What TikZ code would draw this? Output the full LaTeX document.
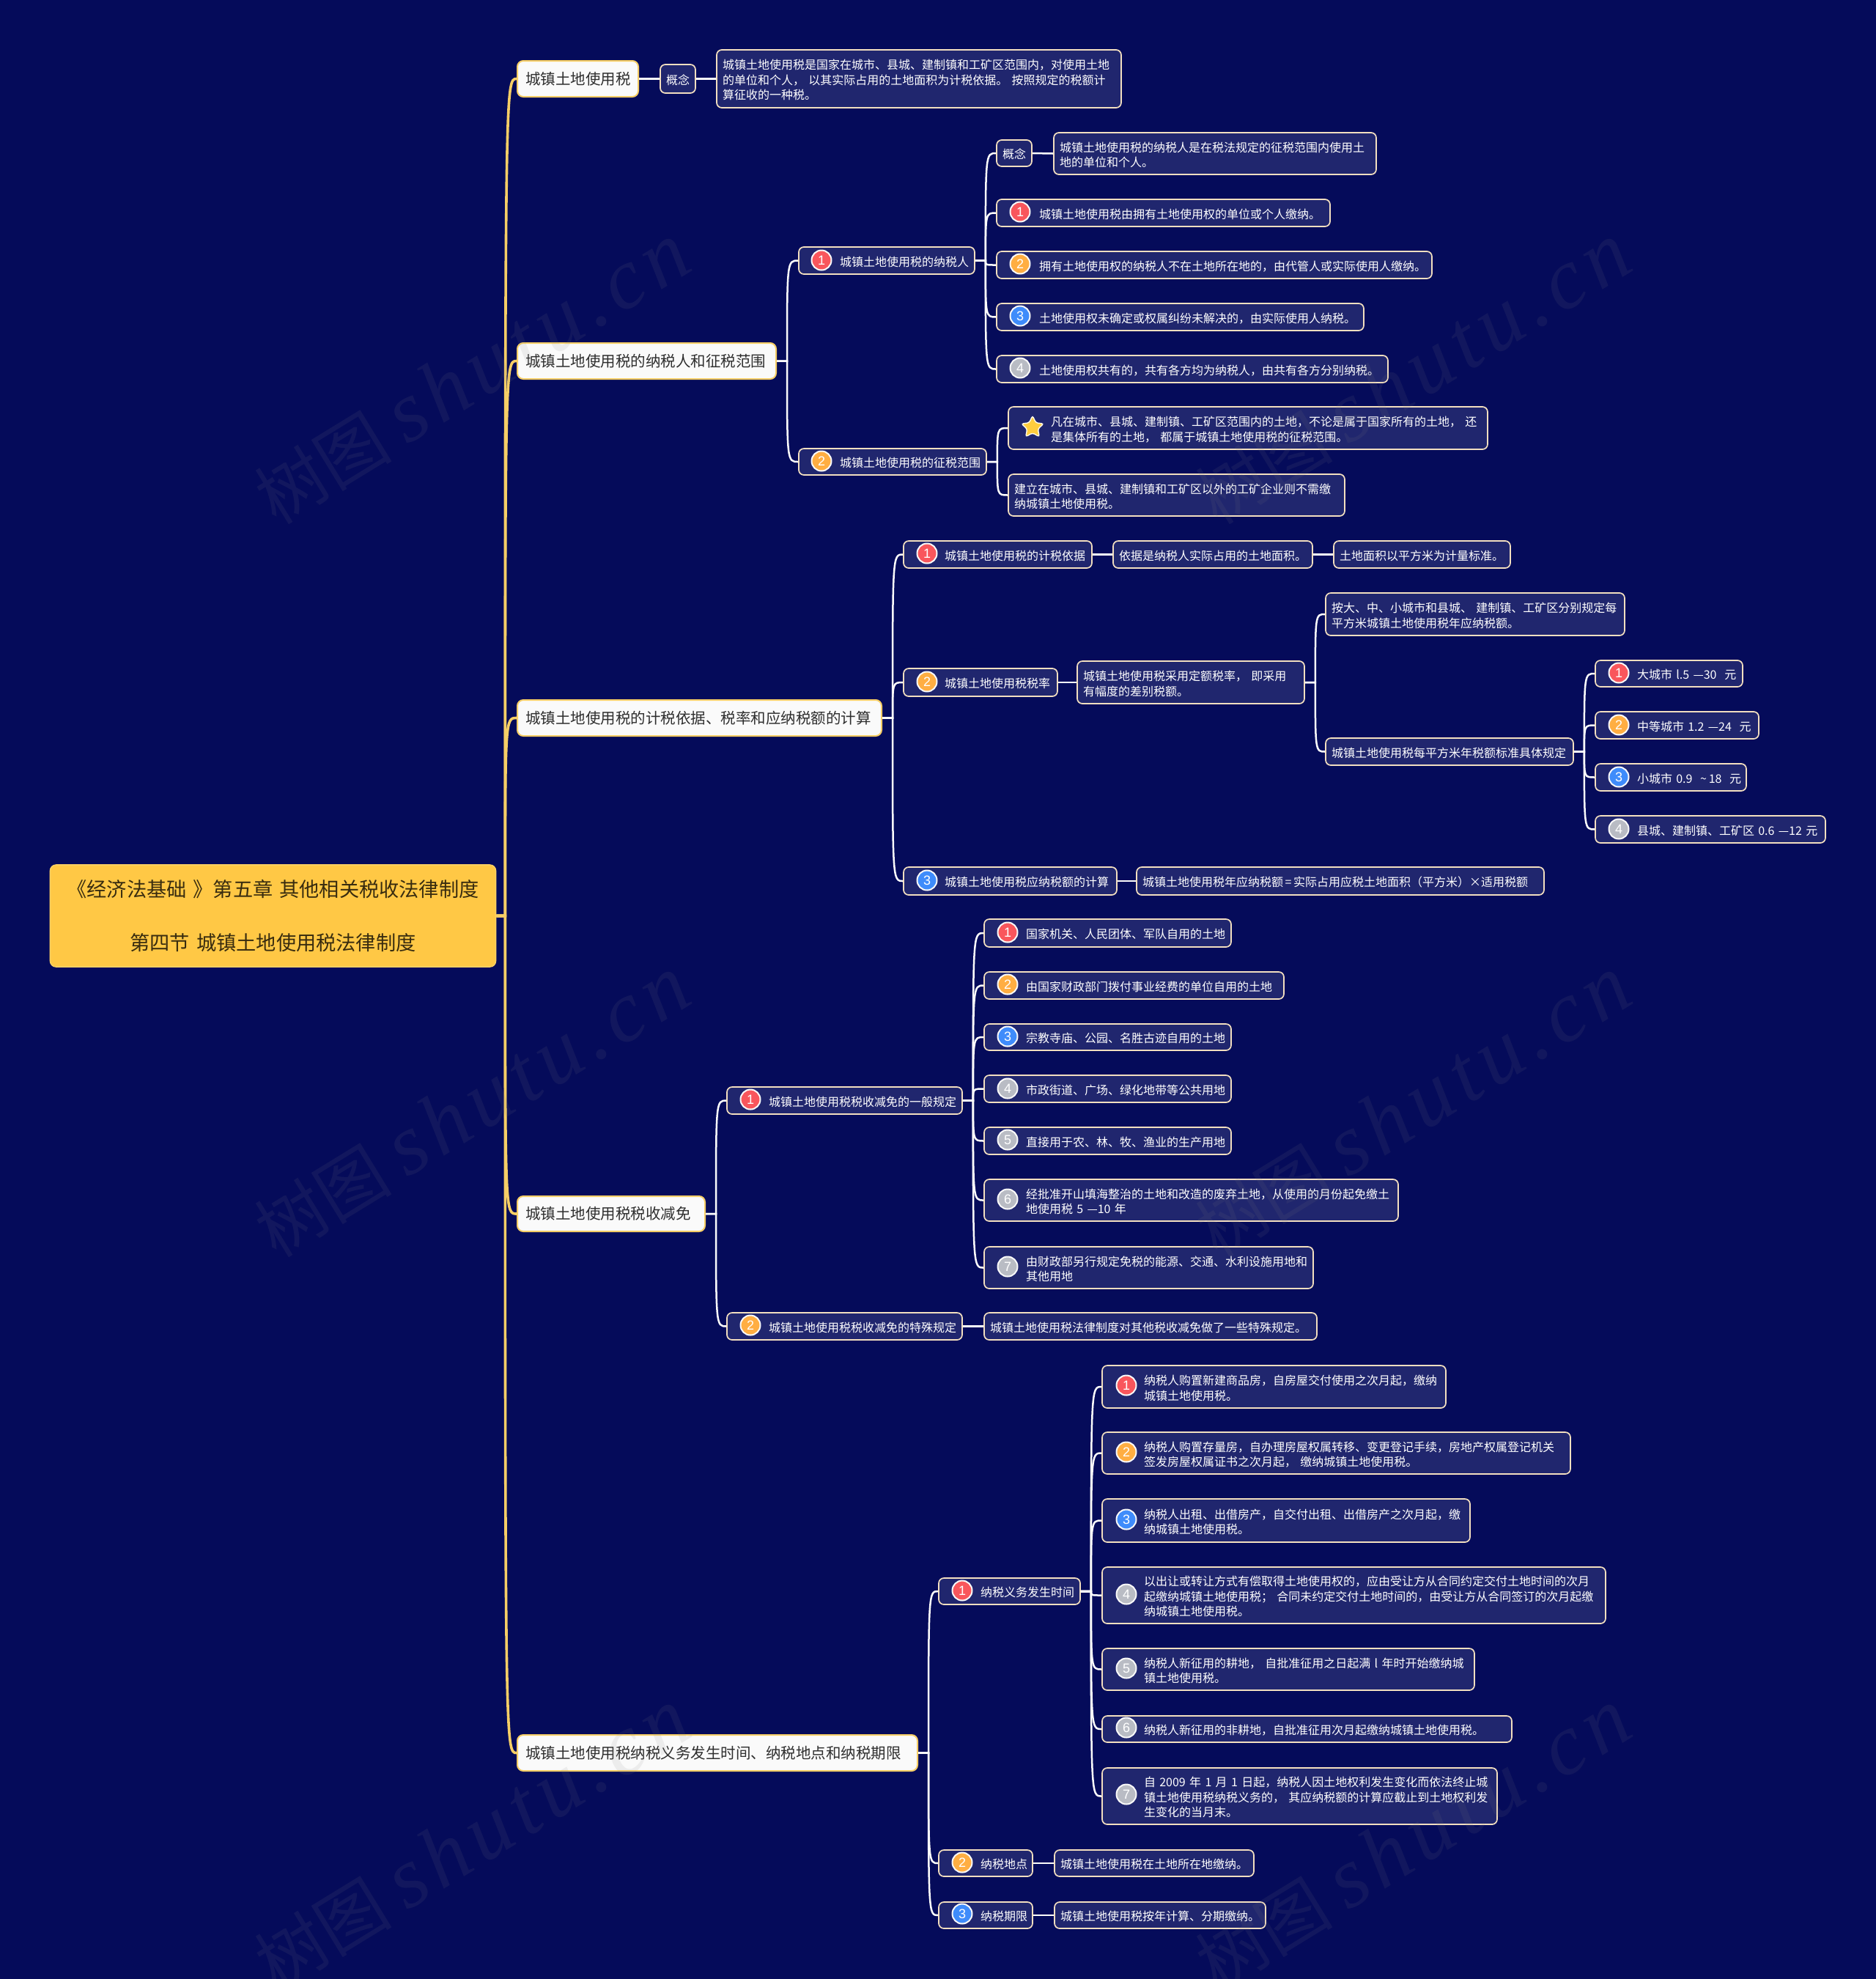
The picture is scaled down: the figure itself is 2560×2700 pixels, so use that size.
\documentclass[tikz,border=0pt]{standalone}
\usepackage{fontspec}
\usetikzlibrary{shapes.geometric,calc}
\setmainfont{Noto Sans CJK SC}
\newfontfamily\numfont{Liberation Sans}
\newfontfamily\wmserif{Liberation Serif}
\definecolor{bgnavy}{HTML}{050B5A}
\definecolor{boxfill}{HTML}{20266E}
\definecolor{boxline}{HTML}{F3DFC0}
\definecolor{gold}{HTML}{FFC845}
\definecolor{goldline}{HTML}{F6CE66}
\definecolor{icred}{HTML}{F9565C}
\definecolor{icorange}{HTML}{FFAE42}
\definecolor{icblue}{HTML}{3F8CFB}
\definecolor{icgrey}{HTML}{B9BCC4}
\tikzset{
  leaf/.style={draw=boxline,fill=boxfill,line width=0.85pt,rounded corners=3.5pt,text=white,inner sep=0pt,align=left,text height=8.6pt,font=\fontsize{8pt}{10.25pt}\selectfont},
  topic/.style={draw=goldline,fill=white!96!gray,line width=1pt,rounded corners=4pt,text=black!82,inner sep=0pt,align=left,font=\fontsize{10.25pt}{12.5pt}\selectfont},
  rootbox/.style={fill=gold,draw=gold!85!white,line width=0.8pt,rounded corners=4pt,text=black!78!gold,inner sep=0pt,align=center,font=\fontsize{13.6pt}{36.5pt}\selectfont},
  icon/.style={circle,draw=white!95!gray,line width=1pt,minimum size=13.5pt,inner sep=0pt,text=white,font=\numfont\fontsize{9pt}{10pt}\selectfont},
  wire/.style={draw=white!97!gray,line width=1.25pt},
  goldwire/.style={draw=goldline,line width=1.8pt},
  watermark/.style={text=gray,text opacity=0.11,rotate=31.5,inner sep=0pt,font=\fontsize{47pt}{52pt}\selectfont}
}
\newcommand\bx[8]{%
  \pgfmathsetlengthmacro\bxw{(#5-#3)*0.5pt}%
  \pgfmathsetlengthmacro\bxh{(#6-#4)*0.5pt}%
  \pgfmathsetlengthmacro\bxp{#7*0.5pt}%
  \node[#1,minimum width=\bxw,minimum height=\bxh,text width=\bxw] (#2) at ({(#3+#5)/2},{-(#4+#6)/2})
    {\leftskip=\bxp\rightskip=-30pt plus 1fil\relax #8\par};%
  \coordinate (#2m) at ([xshift=7pt]#2.east);%
}
\newcommand\ic[5]{\node[icon,fill=#4] (#1) at (#2,-#3) {#5};}
\newcommand\bend[2]{\draw[wire] (#1.east) -- (#1m) .. controls (#1m |- #2.west) and (#1m |- #2.west) .. (#2.west);}
\newcommand\gbend[2]{\draw[goldwire] (#1.east) -- (#1m) .. controls (#1m |- #2.west) and (#1m |- #2.west) .. (#2.west);}
\newcommand\straight[2]{\draw[wire] (#1.east) -- (#2.west);}
\begin{document}
\begin{tikzpicture}[x=0.5pt,y=0.5pt]
\useasboundingbox (0,0) rectangle (2560,-2700);
\fill[bgnavy] (0,0) rectangle (2560,-2700);

% root
\node[rootbox,minimum width=304pt,minimum height=69.5pt,text width=304pt] (root) at (372.5,-1249.5)
  {《经济法基础 》第五章 其他相关税收法律制度\\第四节 城镇土地使用税法律制度};
\coordinate (rootm) at ([xshift=6pt]root.east);

% level 1
\bx{topic}{a}{706}{83}{871}{132}{11}{城镇土地使用税}
\bx{topic}{b}{706}{468}{1059}{517}{11}{城镇土地使用税的纳税人和征税范围}
\bx{topic}{c}{706}{955}{1203}{1004}{11}{城镇土地使用税的计税依据、税率和应纳税额的计算}
\bx{topic}{d}{706}{1632}{962}{1680}{11}{城镇土地使用税税收减免}
\bx{topic}{e}{706}{2367}{1252}{2416}{11}{城镇土地使用税纳税义务发生时间、纳税地点和纳税期限}

% branch a
\bx{leaf}{a1}{901}{88}{949}{127}{8}{概念}
\bx{leaf}{a2}{978}{68}{1530}{147}{8}{城镇土地使用税是国家在城市、县城、建制镇和工矿区范围内，对使用土地\\的单位和个人， 以其实际占用的土地面积为计税依据。 按照规定的税额计\\算征收的一种税。}

% branch b
\bx{leaf}{b1}{1090}{337}{1330}{374}{56}{城镇土地使用税的纳税人}
\ic{ib1}{1121}{355}{icred}{1}
\bx{leaf}{b2}{1090}{612}{1346}{648}{56}{城镇土地使用税的征税范围}
\ic{ib2}{1121}{629}{icorange}{2}

\bx{leaf}{b11}{1360}{191}{1408}{227}{8}{概念}
\bx{leaf}{b11d}{1438}{181}{1878}{238}{8}{城镇土地使用税的纳税人是在税法规定的征税范围内使用土\\地的单位和个人。}
\bx{leaf}{b12}{1360}{272}{1815}{309}{58}{城镇土地使用税由拥有土地使用权的单位或个人缴纳。}
\ic{ib12}{1392}{289}{icred}{1}
\bx{leaf}{b13}{1360}{343}{1954}{380}{58}{拥有土地使用权的纳税人不在土地所在地的，由代管人或实际使用人缴纳。}
\ic{ib13}{1392}{360}{icorange}{2}
\bx{leaf}{b14}{1360}{414}{1861}{451}{58}{土地使用权未确定或权属纠纷未解决的，由实际使用人纳税。}
\ic{ib14}{1392}{431}{icblue}{3}
\bx{leaf}{b15}{1360}{485}{1894}{522}{58}{土地使用权共有的，共有各方均为纳税人，由共有各方分别纳税。}
\ic{ib15}{1392}{502}{icgrey}{4}

\bx{leaf}{b21}{1376}{555}{2030}{613}{58}{凡在城市、县城、建制镇、工矿区范围内的土地，不论是属于国家所有的土地， 还\\是集体所有的土地， 都属于城镇土地使用税的征税范围。}
\node[star,star points=5,star point ratio=2.1,fill=gold!90!yellow,draw=white!90!gold,line width=0.7pt,rounded corners=1.5pt,minimum size=16pt,inner sep=0pt] (ib21) at (1409,-583) {};
\bx{leaf}{b22}{1376}{647}{1835}{704}{8}{建立在城市、县城、建制镇和工矿区以外的工矿企业则不需缴\\纳城镇土地使用税。}

% branch c
\bx{leaf}{c1}{1233}{738}{1490}{775}{56}{城镇土地使用税的计税依据}
\ic{ic1}{1265}{755}{icred}{1}
\bx{leaf}{c1a}{1519}{738}{1791}{775}{8}{依据是纳税人实际占用的土地面积。}
\bx{leaf}{c1b}{1820}{738}{2061}{775}{8}{土地面积以平方米为计量标准。}
\bx{leaf}{c2}{1233}{912}{1443}{950}{56}{城镇土地使用税税率}
\ic{ic2}{1265}{930}{icorange}{2}
\bx{leaf}{c2a}{1470}{902}{1780}{960}{8}{城镇土地使用税采用定额税率， 即采用\\有幅度的差别税额。}
\bx{leaf}{c2b}{1809}{809}{2217}{867}{8}{按大、中、小城市和县城、 建制镇、工矿区分别规定每\\平方米城镇土地使用税年应纳税额。}
\bx{leaf}{c2c}{1809}{1007}{2147}{1044}{8}{城镇土地使用税每平方米年税额标准具体规定}
\bx{leaf}{c2c1}{2177}{901}{2378}{937}{57}{大城市 l.5 —30 \ 元}
\ic{ic2c1}{2209}{918}{icred}{1}
\bx{leaf}{c2c2}{2177}{971}{2400}{1008}{57}{中等城市 1.2 —24 \ 元}
\ic{ic2c2}{2209}{989}{icorange}{2}
\bx{leaf}{c2c3}{2177}{1042}{2383}{1079}{57}{小城市 0.9 \ \textasciitilde\,18 \ 元}
\ic{ic2c3}{2209}{1060}{icblue}{3}
\bx{leaf}{c2c4}{2177}{1113}{2491}{1150}{57}{县城、建制镇、工矿区 0.6 —12 元}
\ic{ic2c4}{2209}{1131}{icgrey}{4}
\bx{leaf}{c3}{1233}{1183}{1524}{1221}{56}{城镇土地使用税应纳税额的计算}
\ic{ic3}{1265}{1201}{icblue}{3}
\bx{leaf}{c3a}{1551}{1183}{2107}{1221}{8}{城镇土地使用税年应纳税额\,=\,实际占用应税土地面积（平方米）×适用税额}

% branch d
\bx{leaf}{d1}{992}{1483}{1313}{1520}{57}{城镇土地使用税税收减免的一般规定}
\ic{id1}{1024}{1500}{icred}{1}
\bx{leaf}{d2}{992}{1791}{1313}{1828}{57}{城镇土地使用税税收减免的特殊规定}
\ic{id2}{1024}{1808}{icorange}{2}
\bx{leaf}{d2a}{1343}{1791}{1797}{1828}{8}{城镇土地使用税法律制度对其他税收减免做了一些特殊规定。}
\bx{leaf}{d11}{1343}{1254}{1680}{1292}{57}{国家机关、人民团体、军队自用的土地}
\ic{id11}{1375}{1272}{icred}{1}
\bx{leaf}{d12}{1343}{1326}{1752}{1363}{57}{由国家财政部门拨付事业经费的单位自用的土地}
\ic{id12}{1375}{1343}{icorange}{2}
\bx{leaf}{d13}{1343}{1397}{1680}{1433}{57}{宗教寺庙、公园、名胜古迹自用的土地}
\ic{id13}{1375}{1414}{icblue}{3}
\bx{leaf}{d14}{1343}{1467}{1680}{1504}{57}{市政街道、广场、绿化地带等公共用地}
\ic{id14}{1375}{1485}{icgrey}{4}
\bx{leaf}{d15}{1343}{1538}{1680}{1575}{57}{直接用于农、林、牧、渔业的生产用地}
\ic{id15}{1375}{1555}{icgrey}{5}
\bx{leaf}{d16}{1343}{1609}{1908}{1666}{57}{经批准开山填海整治的土地和改造的废弃土地，从使用的月份起免缴土\\地使用税 5 —10 年}
\ic{id16}{1375}{1636}{icgrey}{6}
\bx{leaf}{d17}{1343}{1701}{1792}{1758}{57}{由财政部另行规定免税的能源、交通、水利设施用地和\\其他用地}
\ic{id17}{1375}{1728}{icgrey}{7}

% branch e
\bx{leaf}{e1}{1281}{2153}{1474}{2189}{57}{纳税义务发生时间}
\ic{ie1}{1313}{2170}{icred}{1}
\bx{leaf}{e2}{1281}{2524}{1409}{2560}{57}{纳税地点}
\ic{ie2}{1313}{2541}{icorange}{2}
\bx{leaf}{e2a}{1439}{2524}{1711}{2560}{8}{城镇土地使用税在土地所在地缴纳。}
\bx{leaf}{e3}{1281}{2595}{1409}{2631}{57}{纳税期限}
\ic{ie3}{1313}{2611}{icblue}{3}
\bx{leaf}{e3a}{1439}{2595}{1727}{2631}{8}{城镇土地使用税按年计算、分期缴纳。}
\bx{leaf}{e11}{1504}{1863}{1973}{1921}{57}{纳税人购置新建商品房，自房屋交付使用之次月起，缴纳\\城镇土地使用税。}
\ic{ie11}{1537}{1890}{icred}{1}
\bx{leaf}{e12}{1504}{1954}{2143}{2011}{57}{纳税人购置存量房，自办理房屋权属转移、变更登记手续，房地产权属登记机关\\签发房屋权属证书之次月起， 缴纳城镇土地使用税。}
\ic{ie12}{1537}{1981}{icorange}{2}
\bx{leaf}{e13}{1504}{2045}{2006}{2104}{57}{纳税人出租、出借房产，自交付出租、出借房产之次月起，缴\\纳城镇土地使用税。}
\ic{ie13}{1537}{2073}{icblue}{3}
\bx{leaf}{e14}{1504}{2138}{2191}{2215}{57}{以出让或转让方式有偿取得土地使用权的，应由受让方从合同约定交付土地时间的次月\\起缴纳城镇土地使用税； 合同未约定交付土地时间的，由受让方从合同签订的次月起缴\\纳城镇土地使用税。}
\ic{ie14}{1537}{2175}{icgrey}{4}
\bx{leaf}{e15}{1504}{2249}{2012}{2306}{57}{纳税人新征用的耕地， 自批准征用之日起满 l 年时开始缴纳城\\镇土地使用税。}
\ic{ie15}{1537}{2276}{icgrey}{5}
\bx{leaf}{e16}{1504}{2341}{2063}{2377}{57}{纳税人新征用的非耕地，自批准征用次月起缴纳城镇土地使用税。}
\ic{ie16}{1537}{2357}{icgrey}{6}
\bx{leaf}{e17}{1504}{2412}{2043}{2489}{57}{自 2009 年 1 月 1 日起，纳税人因土地权利发生变化而依法终止城\\镇土地使用税纳税义务的， 其应纳税额的计算应截止到土地权利发\\生变化的当月末。}
\ic{ie17}{1537}{2448}{icgrey}{7}

% connectors
\foreach \k in {a,b,c,d,e}{\gbend{root}{\k}}
\straight{a}{a1}\straight{a1}{a2}
\bend{b}{b1}\bend{b}{b2}
\foreach \k in {b11,b12,b13,b14,b15}{\bend{b1}{\k}}
\straight{b11}{b11d}
\bend{b2}{b21}\bend{b2}{b22}
\bend{c}{c1}\bend{c}{c2}\bend{c}{c3}
\straight{c1}{c1a}\straight{c1a}{c1b}
\straight{c2}{c2a}\straight{c3}{c3a}
\bend{c2a}{c2b}\bend{c2a}{c2c}
\foreach \k in {c2c1,c2c2,c2c3,c2c4}{\bend{c2c}{\k}}
\bend{d}{d1}\bend{d}{d2}\straight{d2}{d2a}
\foreach \k in {d11,d12,d13,d14,d15,d16,d17}{\bend{d1}{\k}}
\bend{e}{e1}\bend{e}{e2}\bend{e}{e3}
\straight{e2}{e2a}\straight{e3}{e3a}
\foreach \k in {e11,e12,e13,e14,e15,e16,e17}{\bend{e1}{\k}}

% watermark
\foreach \wx/\wy/\wn in {644/510/w1,1928/510/w2,644/1510/w3,1928/1510/w4,644/2510/w5,1928/2510/w6}{
  \node[watermark] (\wn) at (\wx,-\wy) {树图 {\wmserif\itshape\addfontfeature{LetterSpace=8}\fontsize{59pt}{62pt}\selectfont shutu.cn}};
}
\end{tikzpicture}
\end{document}
